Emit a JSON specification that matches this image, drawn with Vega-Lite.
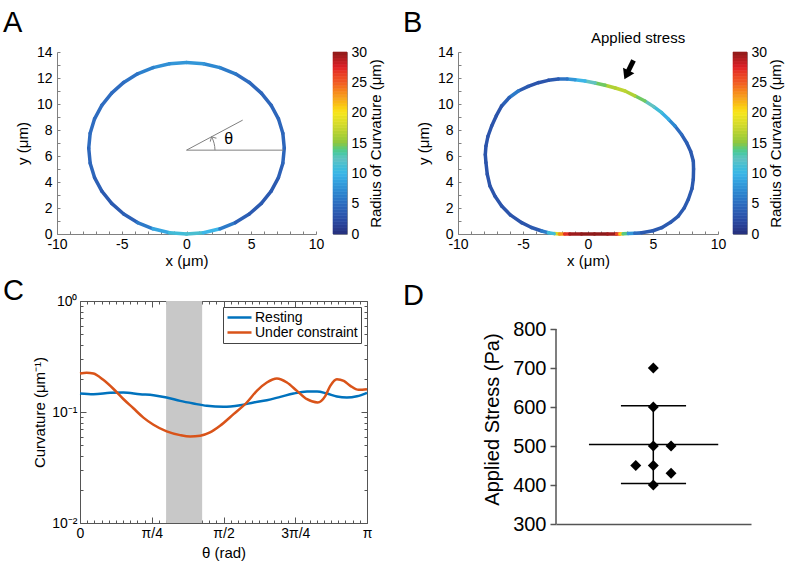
{
 "$schema": "https://vega.github.io/schema/vega-lite/v6.json",
 "background": "white",
 "padding": {"left": 3, "top": 8, "right": 2, "bottom": 2},
 "config": {
  "font": "Liberation Sans",
  "view": {"stroke": null},
  "title": {"fontSize": 29, "fontWeight": "normal", "anchor": "start", "frame": "group", "color": "black"},
  "axis": {"labelFontSize": 14, "titleFontSize": 15, "titleFontWeight": "normal", "labelColor": "black", "titleColor": "black", "grid": false, "labelFlush": false, "labelOverlap": false}
 },
 "datasets": {
  "cellA": [
   {"x":7.55,"y":6.6,"x2":7.44,"y2":7.75,"r":4.5},{"x":7.44,"y":7.75,"x2":7.10,"y2":8.86,"r":4.5},{"x":7.10,"y":8.86,"x2":6.54,"y2":9.90,"r":4.5},{"x":6.54,"y":9.90,"x2":5.78,"y2":10.84,"r":4.5},{"x":5.78,"y":10.84,"x2":4.85,"y2":11.66,"r":4.5},{"x":4.85,"y":11.66,"x2":3.78,"y2":12.32,"r":5},{"x":3.78,"y":12.32,"x2":2.58,"y2":12.80,"r":6},{"x":2.58,"y":12.80,"x2":1.31,"y2":13.10,"r":7},{"x":1.31,"y":13.10,"x2":0,"y2":13.2,"r":8},{"x":0,"y":13.2,"x2":-1.31,"y2":13.10,"r":8},{"x":-1.31,"y":13.10,"x2":-2.58,"y2":12.80,"r":7.5},{"x":-2.58,"y":12.80,"x2":-3.78,"y2":12.32,"r":6.5},{"x":-3.78,"y":12.32,"x2":-4.85,"y2":11.66,"r":5.5},{"x":-4.85,"y":11.66,"x2":-5.78,"y2":10.84,"r":5},{"x":-5.78,"y":10.84,"x2":-6.54,"y2":9.90,"r":5},{"x":-6.54,"y":9.90,"x2":-7.10,"y2":8.86,"r":5},{"x":-7.10,"y":8.86,"x2":-7.44,"y2":7.75,"r":5},{"x":-7.44,"y":7.75,"x2":-7.55,"y2":6.6,"r":5},{"x":-7.55,"y":6.6,"x2":-7.44,"y2":5.45,"r":4.5},{"x":-7.44,"y":5.45,"x2":-7.10,"y2":4.34,"r":4.5},{"x":-7.10,"y":4.34,"x2":-6.54,"y2":3.30,"r":4},{"x":-6.54,"y":3.30,"x2":-5.78,"y2":2.36,"r":3.5},{"x":-5.78,"y":2.36,"x2":-4.85,"y2":1.54,"r":3.5},{"x":-4.85,"y":1.54,"x2":-3.78,"y2":0.88,"r":4},{"x":-3.78,"y":0.88,"x2":-2.58,"y2":0.40,"r":6},{"x":-2.58,"y":0.40,"x2":-1.31,"y2":0.10,"r":9},{"x":-1.31,"y":0.10,"x2":0,"y2":0,"r":11},{"x":0,"y":0,"x2":1.31,"y2":0.10,"r":11.5},{"x":1.31,"y":0.10,"x2":2.58,"y2":0.40,"r":10},{"x":2.58,"y":0.40,"x2":3.78,"y2":0.88,"r":6},{"x":3.78,"y":0.88,"x2":4.85,"y2":1.54,"r":4},{"x":4.85,"y":1.54,"x2":5.78,"y2":2.36,"r":3.5},{"x":5.78,"y":2.36,"x2":6.54,"y2":3.30,"r":3.5},{"x":6.54,"y":3.30,"x2":7.10,"y2":4.34,"r":3.5},{"x":7.10,"y":4.34,"x2":7.44,"y2":5.45,"r":4},{"x":7.44,"y":5.45,"x2":7.55,"y2":6.6,"r":4.5}
  ],
  "cellB": [
   {"x":-2.6,"y":0.03,"x2":-2.2,"y2":0,"r":18},{"x":-2.2,"y":0,"x2":-1.8,"y2":0,"r":23},{"x":-1.8,"y":0,"x2":-1.4,"y2":0,"r":27},{"x":-1.4,"y":0,"x2":-0.5,"y2":0,"r":29.5},{"x":-0.5,"y":0,"x2":0.5,"y2":0,"r":30},{"x":0.5,"y":0,"x2":1.5,"y2":0,"r":30},{"x":1.5,"y":0,"x2":2.2,"y2":0,"r":29.5},{"x":2.2,"y":0,"x2":2.45,"y2":0,"r":26},{"x":2.45,"y":0,"x2":2.7,"y2":0.01,"r":21},{"x":2.7,"y":0.01,"x2":3.1,"y2":0.03,"r":14},{"x":3.1,"y":0.03,"x2":3.6,"y2":0.05,"r":8},{"x":3.6,"y":0.05,"x2":4.13,"y2":0.1,"r":5},{"x":4.13,"y":0.1,"x2":5.0,"y2":0.25,"r":3.5},{"x":5.0,"y":0.25,"x2":5.67,"y2":0.49,"r":3.5},{"x":5.67,"y":0.49,"x2":6.35,"y2":0.9,"r":3.5},{"x":6.35,"y":0.9,"x2":6.95,"y2":1.38,"r":3.5},{"x":6.95,"y":1.38,"x2":7.4,"y2":2.0,"r":3.5},{"x":7.4,"y":2.0,"x2":7.72,"y2":2.67,"r":3.5},{"x":7.72,"y":2.67,"x2":8.0,"y2":3.5,"r":3.5},{"x":8.0,"y":3.5,"x2":8.1,"y2":4.21,"r":3.5},{"x":8.1,"y":4.21,"x2":8.12,"y2":5.0,"r":3.5},{"x":8.12,"y":5.0,"x2":8.1,"y2":5.62,"r":3.5},{"x":8.1,"y":5.62,"x2":7.9,"y2":6.35,"r":3.5},{"x":7.9,"y":6.35,"x2":7.59,"y2":7.02,"r":3.5},{"x":7.59,"y":7.02,"x2":7.2,"y2":7.65,"r":4},{"x":7.2,"y":7.65,"x2":6.69,"y2":8.31,"r":5},{"x":6.69,"y":8.31,"x2":6.2,"y2":8.82,"r":7},{"x":6.2,"y":8.82,"x2":5.67,"y2":9.33,"r":9.5},{"x":5.67,"y":9.33,"x2":5.05,"y2":9.8,"r":11},{"x":5.05,"y":9.8,"x2":4.38,"y2":10.23,"r":12.5},{"x":4.38,"y":10.23,"x2":3.6,"y2":10.63,"r":14.5},{"x":3.6,"y":10.63,"x2":2.85,"y2":11.0,"r":16.5},{"x":2.85,"y":11.0,"x2":2.1,"y2":11.23,"r":17},{"x":2.1,"y":11.23,"x2":1.31,"y2":11.44,"r":16.5},{"x":1.31,"y":11.44,"x2":0.55,"y2":11.62,"r":14.5},{"x":0.55,"y":11.62,"x2":-0.23,"y2":11.77,"r":12.5},{"x":-0.23,"y":11.77,"x2":-1.0,"y2":11.87,"r":10},{"x":-1.0,"y":11.87,"x2":-1.6,"y2":11.92,"r":8},{"x":-1.6,"y":11.92,"x2":-2.28,"y2":11.93,"r":5.5},{"x":-2.28,"y":11.93,"x2":-3.05,"y2":11.82,"r":3.5},{"x":-3.05,"y":11.82,"x2":-3.82,"y2":11.64,"r":3},{"x":-3.82,"y":11.64,"x2":-4.6,"y2":11.35,"r":3},{"x":-4.6,"y":11.35,"x2":-5.36,"y2":11.0,"r":3.5},{"x":-5.36,"y":11.0,"x2":-6.05,"y2":10.5,"r":6},{"x":-6.05,"y":10.5,"x2":-6.64,"y2":9.85,"r":4},{"x":-6.64,"y":9.85,"x2":-7.05,"y2":9.1,"r":3},{"x":-7.05,"y":9.1,"x2":-7.41,"y2":8.31,"r":3},{"x":-7.41,"y":8.31,"x2":-7.7,"y2":7.5,"r":3},{"x":-7.7,"y":7.5,"x2":-7.85,"y2":6.77,"r":3},{"x":-7.85,"y":6.77,"x2":-7.9,"y2":6.1,"r":3},{"x":-7.9,"y":6.1,"x2":-7.85,"y2":5.49,"r":3},{"x":-7.85,"y":5.49,"x2":-7.75,"y2":4.6,"r":3},{"x":-7.75,"y":4.6,"x2":-7.54,"y2":3.69,"r":3},{"x":-7.54,"y":3.69,"x2":-7.15,"y2":2.9,"r":3},{"x":-7.15,"y":2.9,"x2":-6.64,"y2":2.15,"r":3},{"x":-6.64,"y":2.15,"x2":-5.95,"y2":1.45,"r":3},{"x":-5.95,"y":1.45,"x2":-5.1,"y2":0.87,"r":3},{"x":-5.1,"y":0.87,"x2":-4.35,"y2":0.5,"r":3},{"x":-4.35,"y":0.5,"x2":-3.56,"y2":0.23,"r":3.5},{"x":-3.56,"y":0.23,"x2":-3.05,"y2":0.1,"r":6},{"x":-3.05,"y":0.1,"x2":-2.6,"y2":0.03,"r":11}
  ],
  "bar": [
   {"lo":0,"hi":0.5,"c":0.25},{"lo":0.5,"hi":1,"c":0.75},{"lo":1,"hi":1.5,"c":1.25},{"lo":1.5,"hi":2,"c":1.75},{"lo":2,"hi":2.5,"c":2.25},{"lo":2.5,"hi":3,"c":2.75},{"lo":3,"hi":3.5,"c":3.25},{"lo":3.5,"hi":4,"c":3.75},{"lo":4,"hi":4.5,"c":4.25},{"lo":4.5,"hi":5,"c":4.75},
   {"lo":5,"hi":5.5,"c":5.25},{"lo":5.5,"hi":6,"c":5.75},{"lo":6,"hi":6.5,"c":6.25},{"lo":6.5,"hi":7,"c":6.75},{"lo":7,"hi":7.5,"c":7.25},{"lo":7.5,"hi":8,"c":7.75},{"lo":8,"hi":8.5,"c":8.25},{"lo":8.5,"hi":9,"c":8.75},{"lo":9,"hi":9.5,"c":9.25},{"lo":9.5,"hi":10,"c":9.75},
   {"lo":10,"hi":10.5,"c":10.25},{"lo":10.5,"hi":11,"c":10.75},{"lo":11,"hi":11.5,"c":11.25},{"lo":11.5,"hi":12,"c":11.75},{"lo":12,"hi":12.5,"c":12.25},{"lo":12.5,"hi":13,"c":12.75},{"lo":13,"hi":13.5,"c":13.25},{"lo":13.5,"hi":14,"c":13.75},{"lo":14,"hi":14.5,"c":14.25},{"lo":14.5,"hi":15,"c":14.75},
   {"lo":15,"hi":15.5,"c":15.25},{"lo":15.5,"hi":16,"c":15.75},{"lo":16,"hi":16.5,"c":16.25},{"lo":16.5,"hi":17,"c":16.75},{"lo":17,"hi":17.5,"c":17.25},{"lo":17.5,"hi":18,"c":17.75},{"lo":18,"hi":18.5,"c":18.25},{"lo":18.5,"hi":19,"c":18.75},{"lo":19,"hi":19.5,"c":19.25},{"lo":19.5,"hi":20,"c":19.75},
   {"lo":20,"hi":20.5,"c":20.25},{"lo":20.5,"hi":21,"c":20.75},{"lo":21,"hi":21.5,"c":21.25},{"lo":21.5,"hi":22,"c":21.75},{"lo":22,"hi":22.5,"c":22.25},{"lo":22.5,"hi":23,"c":22.75},{"lo":23,"hi":23.5,"c":23.25},{"lo":23.5,"hi":24,"c":23.75},{"lo":24,"hi":24.5,"c":24.25},{"lo":24.5,"hi":25,"c":24.75},
   {"lo":25,"hi":25.5,"c":25.25},{"lo":25.5,"hi":26,"c":25.75},{"lo":26,"hi":26.5,"c":26.25},{"lo":26.5,"hi":27,"c":26.75},{"lo":27,"hi":27.5,"c":27.25},{"lo":27.5,"hi":28,"c":27.75},{"lo":28,"hi":28.5,"c":28.25},{"lo":28.5,"hi":29,"c":28.75},{"lo":29,"hi":29.5,"c":29.25},{"lo":29.5,"hi":30,"c":29.75}
  ],
  "curv": [
   {"t":0,"k":0.147,"s":"Resting"},{"t":0.047,"k":0.1447,"s":"Resting"},{"t":0.105,"k":0.1487,"s":"Resting"},{"t":0.151,"k":0.1498,"s":"Resting"},{"t":0.209,"k":0.1447,"s":"Resting"},{"t":0.256,"k":0.1417,"s":"Resting"},{"t":0.302,"k":0.135,"s":"Resting"},{"t":0.349,"k":0.126,"s":"Resting"},{"t":0.395,"k":0.1193,"s":"Resting"},{"t":0.442,"k":0.1136,"s":"Resting"},{"t":0.5,"k":0.1113,"s":"Resting"},{"t":0.558,"k":0.1152,"s":"Resting"},{"t":0.605,"k":0.1218,"s":"Resting"},{"t":0.651,"k":0.1278,"s":"Resting"},{"t":0.698,"k":0.1369,"s":"Resting"},{"t":0.744,"k":0.1467,"s":"Resting"},{"t":0.791,"k":0.1529,"s":"Resting"},{"t":0.826,"k":0.1529,"s":"Resting"},{"t":0.86,"k":0.1467,"s":"Resting"},{"t":0.895,"k":0.138,"s":"Resting"},{"t":0.93,"k":0.135,"s":"Resting"},{"t":0.965,"k":0.1385,"s":"Resting"},{"t":1,"k":0.1487,"s":"Resting"},
   {"t":0,"k":0.222,"s":"Under constraint"},{"t":0.023,"k":0.226,"s":"Under constraint"},{"t":0.047,"k":0.222,"s":"Under constraint"},{"t":0.081,"k":0.195,"s":"Under constraint"},{"t":0.116,"k":0.162,"s":"Under constraint"},{"t":0.151,"k":0.131,"s":"Under constraint"},{"t":0.186,"k":0.108,"s":"Under constraint"},{"t":0.221,"k":0.089,"s":"Under constraint"},{"t":0.256,"k":0.0767,"s":"Under constraint"},{"t":0.302,"k":0.0668,"s":"Under constraint"},{"t":0.349,"k":0.0619,"s":"Under constraint"},{"t":0.384,"k":0.0602,"s":"Under constraint"},{"t":0.419,"k":0.0611,"s":"Under constraint"},{"t":0.453,"k":0.0654,"s":"Under constraint"},{"t":0.488,"k":0.0751,"s":"Under constraint"},{"t":0.535,"k":0.0956,"s":"Under constraint"},{"t":0.581,"k":0.1218,"s":"Under constraint"},{"t":0.616,"k":0.155,"s":"Under constraint"},{"t":0.651,"k":0.1842,"s":"Under constraint"},{"t":0.686,"k":0.2001,"s":"Under constraint"},{"t":0.721,"k":0.1842,"s":"Under constraint"},{"t":0.756,"k":0.155,"s":"Under constraint"},{"t":0.791,"k":0.1304,"s":"Under constraint"},{"t":0.828,"k":0.1218,"s":"Under constraint"},{"t":0.855,"k":0.1397,"s":"Under constraint"},{"t":0.872,"k":0.1719,"s":"Under constraint"},{"t":0.895,"k":0.1974,"s":"Under constraint"},{"t":0.919,"k":0.1907,"s":"Under constraint"},{"t":0.942,"k":0.1719,"s":"Under constraint"},{"t":0.971,"k":0.1583,"s":"Under constraint"},{"t":1,"k":0.1605,"s":"Under constraint"}
  ],
  "dlines": [
   {"x1":0.169,"x2":0.832,"y1":504,"y2":504},{"x1":0.333,"x2":0.667,"y1":603.5,"y2":603.5},{"x1":0.333,"x2":0.667,"y1":404,"y2":404},{"x1":0.499,"x2":0.499,"y1":404,"y2":603.5}
  ],
  "dpts": [
   {"x1":0.499,"y1":700},{"x1":0.499,"y1":600},{"x1":0.499,"y1":500},{"x1":0.59,"y1":500},{"x1":0.409,"y1":450},{"x1":0.499,"y1":450},{"x1":0.59,"y1":430},{"x1":0.499,"y1":400}
  ]
 },
 "resolve": {"scale": {"color": "independent"}},
 "spacing": 9,
 "vconcat": [
  {
   "resolve": {"scale": {"color": "independent"}},
   "spacing": 18,
   "hconcat": [
    {
     "bounds": "flush",
     "spacing": 17,
     "hconcat": [
      {
       "width": 259, "height": 182,
       "title": {"text": "A", "dx": -54, "offset": 7},
       "layer": [
        {"data": {"name": "cellA"}, "mark": {"type": "rule", "strokeWidth": 3.5, "strokeCap": "round"},
         "encoding": {
          "x": {"field": "x", "type": "quantitative", "scale": {"domain": [-10, 10], "nice": false},
                "axis": {"values": [-10,-9,-8,-7,-6,-5,-4,-3,-2,-1,0,1,2,3,4,5,6,7,8,9,10], "labelExpr": "datum.value % 5 == 0 ? (datum.value < 0 ? '-' + abs(datum.value) : '' + datum.value) : ''", "labelOverlap": false, "labelFlush": false, "tickSize": -3, "labelPadding": 6, "domainColor": "#808080", "tickColor": "#808080", "title": "x (μm)", "titlePadding": 2}},
          "y": {"field": "y", "type": "quantitative", "scale": {"domain": [0, 14], "nice": false},
                "axis": {"values": [0,1,2,3,4,5,6,7,8,9,10,11,12,13,14], "labelExpr": "datum.value % 2 == 0 ? '' + datum.value : ''", "labelOverlap": false, "labelFlush": false, "tickSize": -3, "labelPadding": 8, "domainColor": "#808080", "tickColor": "#808080", "title": "y (μm)", "titlePadding": 6}},
          "x2": {"field": "x2"}, "y2": {"field": "y2"},
          "color": {"field": "r", "type": "quantitative", "legend": null,
                    "scale": {"domain": [0,2,5,8,10,12.5,15,17.5,20,22.5,25,27.5,30], "range": ["#262f7c","#2a48a0","#2e6cc0","#3396d8","#3cb6e8","#62c2c0","#8dc63f","#c9d72f","#f8e71c","#f6a21e","#f15a24","#e11f26","#8e1a1a"]}}
         }},
        {"data": {"values": [{"x":0,"y":6.45,"x2":7.48,"y2":6.45},{"x":0,"y":6.45,"x2":4.34,"y2":8.76}]},
         "mark": {"type": "rule", "color": "#808080", "strokeWidth": 1},
         "encoding": {
          "x": {"field": "x", "type": "quantitative", "axis": {"values": [-10,-9,-8,-7,-6,-5,-4,-3,-2,-1,0,1,2,3,4,5,6,7,8,9,10], "labelExpr": "datum.value % 5 == 0 ? (datum.value < 0 ? '-' + abs(datum.value) : '' + datum.value) : ''", "labelOverlap": false, "labelFlush": false, "tickSize": -3, "labelPadding": 6, "domainColor": "#808080", "tickColor": "#808080", "title": "x (μm)", "titlePadding": 2}},
          "y": {"field": "y", "type": "quantitative", "axis": {"values": [0,1,2,3,4,5,6,7,8,9,10,11,12,13,14], "labelExpr": "datum.value % 2 == 0 ? '' + datum.value : ''", "labelOverlap": false, "labelFlush": false, "tickSize": -3, "labelPadding": 8, "domainColor": "#808080", "tickColor": "#808080", "title": "y (μm)", "titlePadding": 6}},
          "x2": {"field": "x2"}, "y2": {"field": "y2"}}},
        {"data": {"values": [{"i":0,"x":2.2,"y":6.45},{"i":1,"x":2.18,"y":6.72},{"i":2,"x":2.13,"y":6.98},{"i":3,"x":2.05,"y":7.23},{"i":4,"x":1.94,"y":7.48}]},
         "mark": {"type": "line", "color": "#808080", "strokeWidth": 1},
         "encoding": {
          "x": {"field": "x", "type": "quantitative", "axis": {"values": [-10,-9,-8,-7,-6,-5,-4,-3,-2,-1,0,1,2,3,4,5,6,7,8,9,10], "labelExpr": "datum.value % 5 == 0 ? (datum.value < 0 ? '-' + abs(datum.value) : '' + datum.value) : ''", "labelOverlap": false, "labelFlush": false, "tickSize": -3, "labelPadding": 6, "domainColor": "#808080", "tickColor": "#808080", "title": "x (μm)", "titlePadding": 2}},
          "y": {"field": "y", "type": "quantitative", "axis": {"values": [0,1,2,3,4,5,6,7,8,9,10,11,12,13,14], "labelExpr": "datum.value % 2 == 0 ? '' + datum.value : ''", "labelOverlap": false, "labelFlush": false, "tickSize": -3, "labelPadding": 8, "domainColor": "#808080", "tickColor": "#808080", "title": "y (μm)", "titlePadding": 6}},
          "order": {"field": "i"}}},
        {"data": {"values": [{"x":1.94,"y":7.48}]},
         "mark": {"type": "point", "shape": "M-1,1L0,0L1,1", "filled": false, "stroke": "#808080", "strokeWidth": 1, "size": 50, "angle": 332, "opacity": 1},
         "encoding": {
          "x": {"field": "x", "type": "quantitative", "axis": {"values": [-10,-9,-8,-7,-6,-5,-4,-3,-2,-1,0,1,2,3,4,5,6,7,8,9,10], "labelExpr": "datum.value % 5 == 0 ? (datum.value < 0 ? '-' + abs(datum.value) : '' + datum.value) : ''", "labelOverlap": false, "labelFlush": false, "tickSize": -3, "labelPadding": 6, "domainColor": "#808080", "tickColor": "#808080", "title": "x (μm)", "titlePadding": 2}},
          "y": {"field": "y", "type": "quantitative", "axis": {"values": [0,1,2,3,4,5,6,7,8,9,10,11,12,13,14], "labelExpr": "datum.value % 2 == 0 ? '' + datum.value : ''", "labelOverlap": false, "labelFlush": false, "tickSize": -3, "labelPadding": 8, "domainColor": "#808080", "tickColor": "#808080", "title": "y (μm)", "titlePadding": 6}}}},
        {"data": {"values": [{"x":3.25,"y":7.3,"label":"θ"}]},
         "mark": {"type": "text", "fontSize": 16, "align": "center", "baseline": "middle", "color": "black"},
         "encoding": {
          "x": {"field": "x", "type": "quantitative", "axis": {"values": [-10,-9,-8,-7,-6,-5,-4,-3,-2,-1,0,1,2,3,4,5,6,7,8,9,10], "labelExpr": "datum.value % 5 == 0 ? (datum.value < 0 ? '-' + abs(datum.value) : '' + datum.value) : ''", "labelOverlap": false, "labelFlush": false, "tickSize": -3, "labelPadding": 6, "domainColor": "#808080", "tickColor": "#808080", "title": "x (μm)", "titlePadding": 2}},
          "y": {"field": "y", "type": "quantitative", "axis": {"values": [0,1,2,3,4,5,6,7,8,9,10,11,12,13,14], "labelExpr": "datum.value % 2 == 0 ? '' + datum.value : ''", "labelOverlap": false, "labelFlush": false, "tickSize": -3, "labelPadding": 8, "domainColor": "#808080", "tickColor": "#808080", "title": "y (μm)", "titlePadding": 6}},
          "text": {"field": "label"}}}
       ]
      },
      {
       "width": 14, "height": 182,
       "view": {"stroke": "#999999", "strokeWidth": 1},
       "data": {"name": "bar"},
       "mark": {"type": "rect", "strokeWidth": 0.6},
       "encoding": {
        "y": {"field": "lo", "type": "quantitative", "scale": {"domain": [0, 30], "nice": false},
              "axis": {"orient": "right", "values": [0,5,10,15,20,25,30], "labelOverlap": false, "labelFlush": false, "ticks": false, "domain": false, "labelPadding": 4, "title": "Radius of Curvature (μm)", "titleAngle": 270, "titleBaseline": "top", "titlePadding": 2}},
        "y2": {"field": "hi"},
        "color": {"field": "c", "type": "quantitative", "legend": null,
                  "scale": {"domain": [0,2,5,8,10,12.5,15,17.5,20,22.5,25,27.5,30], "range": ["#262f7c","#2a48a0","#2e6cc0","#3396d8","#3cb6e8","#62c2c0","#8dc63f","#c9d72f","#f8e71c","#f6a21e","#f15a24","#e11f26","#8e1a1a"]}},
        "stroke": {"field": "c", "type": "quantitative", "legend": null,
                  "scale": {"domain": [0,2,5,8,10,12.5,15,17.5,20,22.5,25,27.5,30], "range": ["#262f7c","#2a48a0","#2e6cc0","#3396d8","#3cb6e8","#62c2c0","#8dc63f","#c9d72f","#f8e71c","#f6a21e","#f15a24","#e11f26","#8e1a1a"]}}
       }
      }
     ]
    },
    {
     "bounds": "flush",
     "spacing": 15,
     "hconcat": [
      {
       "width": 260, "height": 182,
       "title": {"text": "B", "dx": -55, "offset": -7},
       "layer": [
        {"data": {"name": "cellB"}, "mark": {"type": "rule", "strokeWidth": 3.5, "strokeCap": "round"},
         "encoding": {
          "x": {"field": "x", "type": "quantitative", "scale": {"domain": [-10, 10], "nice": false},
                "axis": {"values": [-10,-9,-8,-7,-6,-5,-4,-3,-2,-1,0,1,2,3,4,5,6,7,8,9,10], "labelExpr": "datum.value % 5 == 0 ? (datum.value < 0 ? '-' + abs(datum.value) : '' + datum.value) : ''", "labelOverlap": false, "labelFlush": false, "tickSize": -3, "labelPadding": 6, "domainColor": "#808080", "tickColor": "#808080", "title": "x (μm)", "titlePadding": 2}},
          "y": {"field": "y", "type": "quantitative", "scale": {"domain": [0, 14], "nice": false},
                "axis": {"values": [0,1,2,3,4,5,6,7,8,9,10,11,12,13,14], "labelExpr": "datum.value % 2 == 0 ? '' + datum.value : ''", "labelOverlap": false, "labelFlush": false, "tickSize": -3, "labelPadding": 8, "domainColor": "#808080", "tickColor": "#808080", "title": "y (μm)", "titlePadding": 6}},
          "x2": {"field": "x2"}, "y2": {"field": "y2"},
          "color": {"field": "r", "type": "quantitative", "legend": null,
                    "scale": {"domain": [0,2,5,8,10,12.5,15,17.5,20,22.5,25,27.5,30], "range": ["#262f7c","#2a48a0","#2e6cc0","#3396d8","#3cb6e8","#62c2c0","#8dc63f","#c9d72f","#f8e71c","#f6a21e","#f15a24","#e11f26","#8e1a1a"]}}
         }},
        {"data": {"values": [{"x":3.5,"y":13.35,"x2":3.08,"y2":12.5}]},
         "mark": {"type": "rule", "color": "black", "strokeWidth": 5},
         "encoding": {
          "x": {"field": "x", "type": "quantitative", "axis": {"values": [-10,-9,-8,-7,-6,-5,-4,-3,-2,-1,0,1,2,3,4,5,6,7,8,9,10], "labelExpr": "datum.value % 5 == 0 ? (datum.value < 0 ? '-' + abs(datum.value) : '' + datum.value) : ''", "labelOverlap": false, "labelFlush": false, "tickSize": -3, "labelPadding": 6, "domainColor": "#808080", "tickColor": "#808080", "title": "x (μm)", "titlePadding": 2}},
          "y": {"field": "y", "type": "quantitative", "axis": {"values": [0,1,2,3,4,5,6,7,8,9,10,11,12,13,14], "labelExpr": "datum.value % 2 == 0 ? '' + datum.value : ''", "labelOverlap": false, "labelFlush": false, "tickSize": -3, "labelPadding": 8, "domainColor": "#808080", "tickColor": "#808080", "title": "y (μm)", "titlePadding": 6}},
          "x2": {"field": "x2"}, "y2": {"field": "y2"}}},
        {"data": {"values": [{"x":2.8,"y":11.9}]},
         "mark": {"type": "point", "shape": "M0,0L-0.9,-1.4L0.9,-1.4Z", "filled": true, "color": "black", "size": 196, "angle": 26, "opacity": 1},
         "encoding": {
          "x": {"field": "x", "type": "quantitative", "axis": {"values": [-10,-9,-8,-7,-6,-5,-4,-3,-2,-1,0,1,2,3,4,5,6,7,8,9,10], "labelExpr": "datum.value % 5 == 0 ? (datum.value < 0 ? '-' + abs(datum.value) : '' + datum.value) : ''", "labelOverlap": false, "labelFlush": false, "tickSize": -3, "labelPadding": 6, "domainColor": "#808080", "tickColor": "#808080", "title": "x (μm)", "titlePadding": 2}},
          "y": {"field": "y", "type": "quantitative", "axis": {"values": [0,1,2,3,4,5,6,7,8,9,10,11,12,13,14], "labelExpr": "datum.value % 2 == 0 ? '' + datum.value : ''", "labelOverlap": false, "labelFlush": false, "tickSize": -3, "labelPadding": 8, "domainColor": "#808080", "tickColor": "#808080", "title": "y (μm)", "titlePadding": 6}}}},
        {"data": {"values": [{"x":3.85,"y":15.1,"label":"Applied stress"}]},
         "mark": {"type": "text", "fontSize": 15, "align": "center", "baseline": "middle", "color": "black"},
         "encoding": {
          "x": {"field": "x", "type": "quantitative", "axis": {"values": [-10,-9,-8,-7,-6,-5,-4,-3,-2,-1,0,1,2,3,4,5,6,7,8,9,10], "labelExpr": "datum.value % 5 == 0 ? (datum.value < 0 ? '-' + abs(datum.value) : '' + datum.value) : ''", "labelOverlap": false, "labelFlush": false, "tickSize": -3, "labelPadding": 6, "domainColor": "#808080", "tickColor": "#808080", "title": "x (μm)", "titlePadding": 2}},
          "y": {"field": "y", "type": "quantitative", "axis": {"values": [0,1,2,3,4,5,6,7,8,9,10,11,12,13,14], "labelExpr": "datum.value % 2 == 0 ? '' + datum.value : ''", "labelOverlap": false, "labelFlush": false, "tickSize": -3, "labelPadding": 8, "domainColor": "#808080", "tickColor": "#808080", "title": "y (μm)", "titlePadding": 6}},
          "text": {"field": "label"}}}
       ]
      },
      {
       "width": 14, "height": 182,
       "view": {"stroke": "#999999", "strokeWidth": 1},
       "data": {"name": "bar"},
       "mark": {"type": "rect", "strokeWidth": 0.6},
       "encoding": {
        "y": {"field": "lo", "type": "quantitative", "scale": {"domain": [0, 30], "nice": false},
              "axis": {"orient": "right", "values": [0,5,10,15,20,25,30], "labelOverlap": false, "labelFlush": false, "ticks": false, "domain": false, "labelPadding": 4, "title": "Radius of Curvature (μm)", "titleAngle": 270, "titleBaseline": "top", "titlePadding": 2}},
        "y2": {"field": "hi"},
        "color": {"field": "c", "type": "quantitative", "legend": null,
                  "scale": {"domain": [0,2,5,8,10,12.5,15,17.5,20,22.5,25,27.5,30], "range": ["#262f7c","#2a48a0","#2e6cc0","#3396d8","#3cb6e8","#62c2c0","#8dc63f","#c9d72f","#f8e71c","#f6a21e","#f15a24","#e11f26","#8e1a1a"]}},
        "stroke": {"field": "c", "type": "quantitative", "legend": null,
                  "scale": {"domain": [0,2,5,8,10,12.5,15,17.5,20,22.5,25,27.5,30], "range": ["#262f7c","#2a48a0","#2e6cc0","#3396d8","#3cb6e8","#62c2c0","#8dc63f","#c9d72f","#f8e71c","#f6a21e","#f15a24","#e11f26","#8e1a1a"]}}
       }
      }
     ]
    }
   ]
  },
  {
   "bounds": "flush",
   "spacing": 189,
   "resolve": {"scale": {"color": "independent"}, "legend": {"color": "independent"}},
   "hconcat": [
    {
     "width": 310, "height": 222,
     "title": {"text": "C", "dx": -54, "offset": -12},
     "resolve": {"axis": {"x": "independent", "y": "independent"}},
     "layer": [
      {"data": {"values": [{"t":0.3,"t2":0.4256,"k":0.01,"k2":1}]},
       "mark": {"type": "rect", "color": "#c8c8c8"},
       "encoding": {
        "x": {"field": "t", "type": "quantitative", "scale": {"domain": [0, 1], "nice": false, "range": [23, 310]},
              "axis": {"orient": "bottom", "values": [0,0.025,0.05,0.075,0.1,0.125,0.15,0.175,0.2,0.225,0.25,0.275,0.3,0.325,0.35,0.375,0.4,0.425,0.45,0.475,0.5,0.525,0.55,0.575,0.6,0.625,0.65,0.675,0.7,0.725,0.75,0.775,0.8,0.825,0.85,0.875,0.9,0.925,0.95,0.975,1],
                       "labelExpr": "abs(datum.value) < 0.001 ? '0' : abs(datum.value-0.25) < 0.001 ? 'π/4' : abs(datum.value-0.5) < 0.001 ? 'π/2' : abs(datum.value-0.75) < 0.001 ? '3π/4' : abs(datum.value-1) < 0.001 ? 'π' : ''",
                       "labelOverlap": false, "labelFlush": false,
                       "tickSize": {"condition": {"test": "abs(datum.value*4 - round(datum.value*4)) < 0.001", "value": -6}, "value": -3},
                       "labelPadding": 9, "domainColor": "#555555", "tickColor": "#555555", "title": "θ (rad)", "titlePadding": 2}},
        "x2": {"field": "t2"},
        "y": {"field": "k", "type": "quantitative", "scale": {"type": "log", "domain": [0.01, 1], "nice": false},
              "axis": {"orient": "left", "offset": -23, "values": [0.01,0.02,0.03,0.04,0.05,0.06,0.07,0.08,0.09,0.1,0.2,0.3,0.4,0.5,0.6,0.7,0.8,0.9,1],
                       "labelExpr": "datum.value == 0.01 ? '10⁻²' : datum.value == 0.1 ? '10⁻¹' : datum.value == 1 ? '10⁰' : ''",
                       "labelOverlap": false, "labelFlush": false,
                       "tickSize": {"condition": {"test": "datum.value == 0.01 || datum.value == 0.1 || datum.value == 1", "value": -6}, "value": -3},
                       "labelPadding": 9, "domainColor": "#555555", "tickColor": "#555555", "title": "Curvature (μm⁻¹)", "titlePadding": 4}},
        "y2": {"field": "k2"}
       }},
      {"data": {"name": "curv"},
       "mark": {"type": "line", "strokeWidth": 2.5, "interpolate": "monotone"},
       "encoding": {
        "x": {"field": "t", "type": "quantitative",
              "axis": {"orient": "top", "values": [0,0.025,0.05,0.075,0.1,0.125,0.15,0.175,0.2,0.225,0.25,0.275,0.3,0.325,0.35,0.375,0.4,0.425,0.45,0.475,0.5,0.525,0.55,0.575,0.6,0.625,0.65,0.675,0.7,0.725,0.75,0.775,0.8,0.825,0.85,0.875,0.9,0.925,0.95,0.975,1],
                       "labels": false, "title": null,
                       "tickSize": {"condition": {"test": "abs(datum.value*4 - round(datum.value*4)) < 0.001", "value": -6}, "value": -3},
                       "domainColor": "#555555", "tickColor": "#555555"}},
        "y": {"field": "k", "type": "quantitative",
              "axis": {"orient": "right", "values": [0.01,0.02,0.03,0.04,0.05,0.06,0.07,0.08,0.09,0.1,0.2,0.3,0.4,0.5,0.6,0.7,0.8,0.9,1],
                       "labels": false, "title": null,
                       "tickSize": {"condition": {"test": "datum.value == 0.01 || datum.value == 0.1 || datum.value == 1", "value": -6}, "value": -3},
                       "domainColor": "#555555", "tickColor": "#555555"}},
        "color": {"field": "s", "type": "nominal",
                  "scale": {"domain": ["Resting", "Under constraint"], "range": ["#0072bd", "#d95319"]},
                  "legend": {"orient": "top-right", "offset": 6, "title": null, "symbolType": "M-1,0H3", "symbolSize": 144, "symbolStrokeWidth": 2.5, "labelFontSize": 14, "labelOffset": 14, "rowPadding": 0, "padding": 3, "strokeColor": "#444444", "fillColor": "white", "labelLimit": 250}}
       }}
     ]
    },
    {
     "width": 195, "height": 223,
     "title": {"text": "D", "dx": -153, "offset": -10},
     "layer": [
      {"data": {"name": "dlines"},
       "mark": {"type": "rule", "color": "black", "strokeWidth": 1.5},
       "encoding": {
        "x": {"field": "x1", "type": "quantitative", "scale": {"domain": [0, 1], "nice": false},
              "axis": {"ticks": false, "labels": false, "title": null, "domainColor": "#555555", "domainWidth": 1.5}},
        "x2": {"field": "x2"},
        "y": {"field": "y1", "type": "quantitative", "scale": {"domain": [300, 871.8], "nice": false, "zero": false},
              "axis": {"values": [300,400,500,600,700,800], "labelOverlap": false, "domain": false, "tickSize": 6, "tickColor": "#555555", "tickWidth": 1.5, "labelFontSize": 20, "labelPadding": 4, "title": "Applied Stress (Pa)", "titleFontSize": 20, "titlePadding": 10, "titleY": 118}},
        "y2": {"field": "y2"}
       }},
      {"data": {"values": [{"x1":0,"x2":0,"y1":300,"y2":800}]},
       "mark": {"type": "rule", "color": "#555555", "strokeWidth": 1.5},
       "encoding": {"x": {"field": "x1", "type": "quantitative"}, "x2": {"field": "x2"}, "y": {"field": "y1", "type": "quantitative"}, "y2": {"field": "y2"}}},
      {"data": {"name": "dpts"},
       "mark": {"type": "point", "shape": "diamond", "filled": true, "color": "black", "size": 120, "opacity": 1},
       "encoding": {"x": {"field": "x1", "type": "quantitative"}, "y": {"field": "y1", "type": "quantitative"}}}
     ]
    }
   ]
  }
 ]
}
